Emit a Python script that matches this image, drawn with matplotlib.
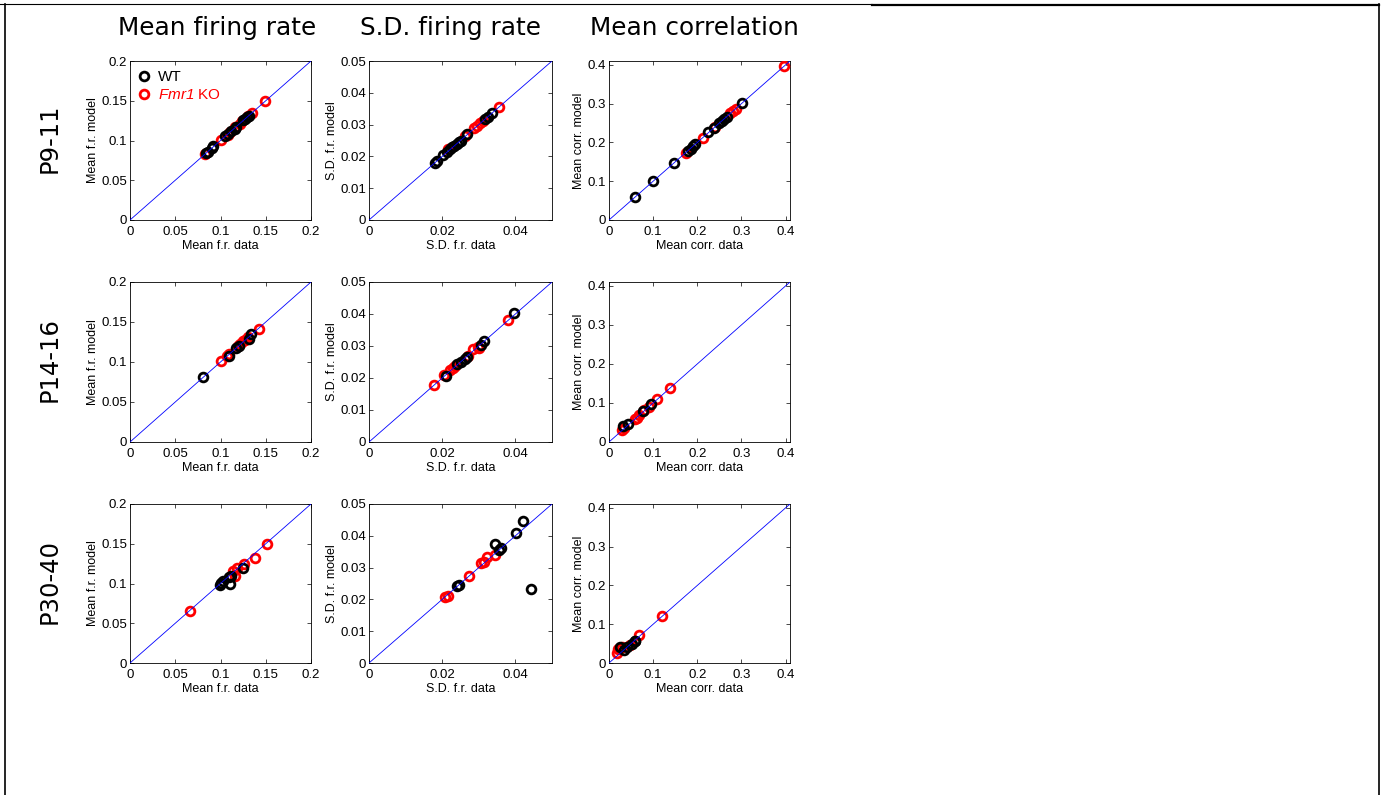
import numpy as np
import matplotlib
matplotlib.use("Agg")
import matplotlib.pyplot as plt
from matplotlib.lines import Line2D
from matplotlib.ticker import FormatStrFormatter

plt.rcParams['font.family'] = ['Liberation Sans', 'DejaVu Sans']
# only the gene name uses mathtext, so make every math glyph italic
plt.rcParams['mathtext.fontset'] = 'custom'
plt.rcParams['mathtext.it'] = 'Liberation Sans:italic'
plt.rcParams['mathtext.rm'] = 'Liberation Sans:italic'

ages = ["P9-11", "P14-16", "P30-40"]
measures = ["Mean firing rate", "S.D. firing rate", "Mean correlation"]
xlabels = ["Mean f.r. data", "S.D. f.r. data", "Mean corr. data"]
ylabels = ["Mean f.r. model", "S.D. f.r. model", "Mean corr. model"]
limits = [0.2, 0.05, 0.41]
ticks = [[0, 0.05, 0.1, 0.15, 0.2],
         [0, 0.01, 0.02, 0.03, 0.04, 0.05],
         [0, 0.1, 0.2, 0.3, 0.4]]
xticks = [[0, 0.05, 0.1, 0.15, 0.2],
          [0, 0.02, 0.04],
          [0, 0.1, 0.2, 0.3, 0.4]]

# mean firing rate, one list per age group
fr_wt_x = [[0.084, 0.086, 0.091, 0.092, 0.105, 0.108, 0.112, 0.116, 0.117, 0.125, 0.127, 0.129, 0.131],
           [0.081, 0.109, 0.117, 0.120, 0.131, 0.134],
           [0.099, 0.101, 0.103, 0.109, 0.110, 0.112, 0.125]]
fr_wt_y = [[0.084, 0.086, 0.091, 0.093, 0.106, 0.108, 0.112, 0.115, 0.117, 0.126, 0.127, 0.130, 0.131],
           [0.081, 0.108, 0.118, 0.120, 0.129, 0.135],
           [0.098, 0.101, 0.103, 0.108, 0.100, 0.110, 0.119]]
fr_ko_x = [[0.083, 0.101, 0.108, 0.111, 0.116, 0.121, 0.124, 0.130, 0.135, 0.149],
           [0.101, 0.107, 0.109, 0.119, 0.122, 0.125, 0.127, 0.130, 0.142],
           [0.066, 0.114, 0.116, 0.118, 0.126, 0.138, 0.151]]
fr_ko_y = [[0.083, 0.101, 0.107, 0.111, 0.117, 0.121, 0.124, 0.131, 0.134, 0.150],
           [0.101, 0.107, 0.110, 0.120, 0.123, 0.126, 0.128, 0.131, 0.141],
           [0.066, 0.116, 0.109, 0.120, 0.124, 0.132, 0.150]]

# s.d. firing rate
sd_wt_x = [[0.0180, 0.0186, 0.0203, 0.0214, 0.0221, 0.0228, 0.0233, 0.0240, 0.0246, 0.0251, 0.0269, 0.0317, 0.0324, 0.0335],
           [0.0210, 0.0240, 0.0251, 0.0262, 0.0267, 0.0305, 0.0313, 0.0397],
           [0.0241, 0.0246, 0.0345, 0.0354, 0.0360, 0.0402, 0.0420, 0.0443]]
sd_wt_y = [[0.0180, 0.0186, 0.0204, 0.0213, 0.0222, 0.0229, 0.0234, 0.0240, 0.0246, 0.0250, 0.0272, 0.0318, 0.0323, 0.0336],
           [0.0205, 0.0243, 0.0249, 0.0259, 0.0265, 0.0303, 0.0315, 0.0403],
           [0.0242, 0.0245, 0.0373, 0.0355, 0.0363, 0.0410, 0.0447, 0.0232]]
sd_ko_x = [[0.0217, 0.0262, 0.0287, 0.0294, 0.0303, 0.0311, 0.0354],
           [0.0178, 0.0206, 0.0221, 0.0229, 0.0235, 0.0271, 0.0285, 0.0297, 0.0301, 0.0381],
           [0.0207, 0.0215, 0.0274, 0.0305, 0.0313, 0.0322, 0.0345]]
sd_ko_y = [[0.0222, 0.0265, 0.0288, 0.0297, 0.0304, 0.0310, 0.0356],
           [0.0178, 0.0210, 0.0225, 0.0231, 0.0236, 0.0270, 0.0292, 0.0296, 0.0293, 0.0380],
           [0.0208, 0.0211, 0.0274, 0.0313, 0.0318, 0.0334, 0.0339]]

# mean correlation
corr_wt_x = [[0.059, 0.099, 0.147, 0.178, 0.186, 0.191, 0.195, 0.225, 0.238, 0.250, 0.256, 0.261, 0.267, 0.301],
             [0.031, 0.044, 0.078, 0.095],
             [0.025, 0.033, 0.040, 0.051, 0.058, 0.060]]
corr_wt_y = [[0.060, 0.100, 0.147, 0.178, 0.184, 0.190, 0.195, 0.226, 0.237, 0.250, 0.255, 0.260, 0.265, 0.301],
             [0.040, 0.047, 0.079, 0.098],
             [0.042, 0.033, 0.040, 0.050, 0.057, 0.058]]
corr_ko_x = [[0.174, 0.212, 0.239, 0.274, 0.281, 0.287, 0.397],
             [0.029, 0.034, 0.058, 0.063, 0.068, 0.080, 0.090, 0.108, 0.138],
             [0.017, 0.020, 0.025, 0.029, 0.048, 0.067, 0.121]]
corr_ko_y = [[0.174, 0.212, 0.241, 0.276, 0.280, 0.286, 0.396],
             [0.030, 0.036, 0.059, 0.062, 0.068, 0.082, 0.090, 0.111, 0.138],
             [0.027, 0.035, 0.038, 0.041, 0.047, 0.071, 0.122]]

panels = [(fr_wt_x, fr_wt_y, fr_ko_x, fr_ko_y),
          (sd_wt_x, sd_wt_y, sd_ko_x, sd_ko_y),
          (corr_wt_x, corr_wt_y, corr_ko_x, corr_ko_y)]

W, H = 1381, 795
fig = plt.figure(figsize=(W / 100, H / 100), dpi=100)

# axes boxes in pixels (left, top, width, height)
col_left = [130, 369, 609]
col_width = [181, 183, 181]
row_top = [61, 282, 504]
row_height = [159, 160, 159]

mk = dict(linestyle="none", marker="o", markersize=6.3, markerfacecolor="none",
          markeredgewidth=2.0)

for r in range(3):
    for c in range(3):
        l, w = col_left[c], col_width[c]
        t, h = row_top[r], row_height[r]
        ax = fig.add_axes([l / W, 1 - (t + h) / H, w / W, h / H])
        wx, wy, kx, ky = panels[c]
        lim = limits[c]
        ax.plot(kx[r], ky[r], color="#ff0000", zorder=3, **mk)
        ax.plot(wx[r], wy[r], color="black", zorder=3, **mk)
        ax.plot([0, lim], [0, lim], color="#0000ff", linewidth=0.6, zorder=4)
        ax.set_xlim(0, lim)
        ax.set_ylim(0, lim)
        ax.set_xticks(xticks[c])
        ax.set_yticks(ticks[c])
        ax.xaxis.set_major_formatter(FormatStrFormatter("%g"))
        ax.yaxis.set_major_formatter(FormatStrFormatter("%g"))
        ax.tick_params(direction="in", top=True, right=True, length=3,
                       width=0.5, labelsize=9.5)
        ax.tick_params(axis="x", pad=4.5)
        ax.tick_params(axis="y", pad=2)
        for s in ax.spines.values():
            s.set_linewidth(0.6)
        ax.set_xlabel(xlabels[c], fontsize=9, labelpad=1.5)
        ax.set_ylabel(ylabels[c], fontsize=9, labelpad=2)
        if r == 0 and c == 0:
            handles = [Line2D([], [], color="black", **mk),
                       Line2D([], [], color="#ff0000", **mk)]
            leg = ax.legend(handles, ["WT", "$Fmr1$ KO"], loc="upper left",
                            frameon=False, fontsize=11, handlelength=0.6,
                            handletextpad=0.6, labelspacing=0.25,
                            borderaxespad=0.2)
            leg.get_texts()[1].set_color("#ff0000")

title_x = [217, 451, 694]
for c in range(3):
    fig.text(title_x[c] / W, 1 - 28 / H, measures[c], fontsize=17.8,
             family="DejaVu Sans", ha="center", va="center")

row_label_y = [138, 360, 582]
for r in range(3):
    fig.text(50 / W, 1 - row_label_y[r] / H, ages[r], fontsize=17.5,
             family="DejaVu Sans", rotation=90, ha="center", va="center")

# outer frame
fig.add_artist(Line2D([5 / W, 5 / W], [0, 1 - 4 / H], color="black", linewidth=1.2))
fig.add_artist(Line2D([1378.5 / W, 1378.5 / W], [0, 1 - 4 / H], color="black", linewidth=1.2))
fig.add_artist(Line2D([0, 872 / W], [1 - 4 / H, 1 - 4 / H], color="black", linewidth=0.8))
fig.add_artist(Line2D([872 / W, 1379 / W], [1 - 5 / H, 1 - 5 / H], color="black", linewidth=1.6))

fig.savefig("out.png", dpi=100)
